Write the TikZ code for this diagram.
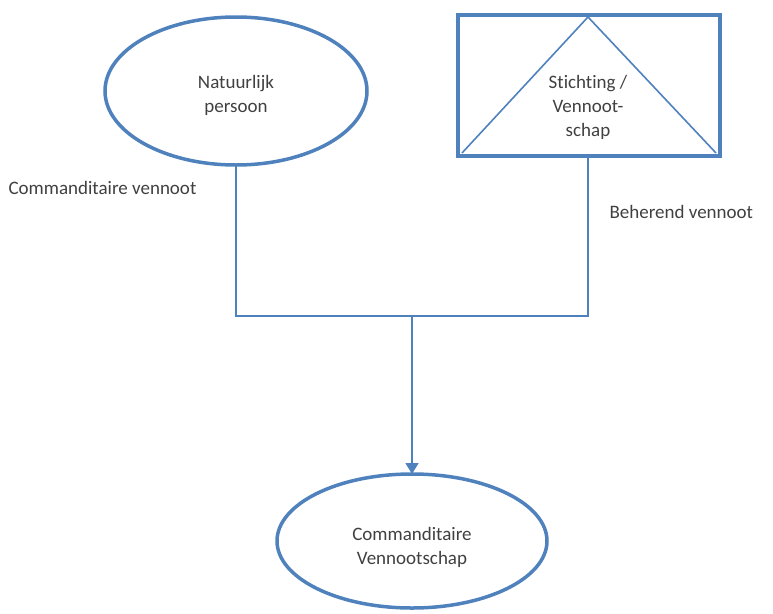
\documentclass[tikz,border=0pt]{standalone}
\usepackage{fontspec}
\setmainfont{Carlito}[Ligatures={NoCommon}]
\usetikzlibrary{arrows.meta}
\definecolor{ob}{RGB}{79,129,189}
\definecolor{tx}{RGB}{64,64,64}
\begin{document}
\begin{tikzpicture}[x=1pt,y=-1pt,
  lbl/.style={text=tx,font=\fontsize{19}{24}\selectfont,align=center},
  conn/.style={draw=ob,line width=1.6pt}]
\useasboundingbox (0,0) rectangle (773,613);
% top ellipse
\draw[ob,line width=3.5pt] (236,91) ellipse [x radius=131,y radius=74];
\node[lbl] (np) at (236,95) {Natuurlijk\\persoon};
\coordinate (npb) at (236,165);
% rectangle with triangle
\draw[ob,line width=4.5pt] (458,15) rectangle (720,156);
\draw[ob,line width=1.6pt] (462,153) -- (588,17) -- (716,153);
\node[lbl] (sv) at (588,107) {Stichting /\\Vennoot-\\schap};
\coordinate (svb) at (588,156);
% connectors
\coordinate (jl) at (236,316);
\coordinate (jr) at (588,316);
\coordinate (jm) at (412,316);
\draw[conn] (npb) -- (jl) -- (jr) -- (svb);
% bottom ellipse
\draw[ob,line width=3.5pt] (412,541) ellipse [x radius=135,y radius=67];
\node[lbl] (cv) at (412,547) {Commanditaire\\Vennootschap};
\coordinate (cvt) at (412,474);
\draw[conn,-{Triangle[length=11pt,width=13pt]}] (jm) -- (cvt);
% labels
\node[lbl,anchor=west] (l1) at (5,188) {Commanditaire vennoot};
\node[lbl,anchor=west] (l2) at (606,212) {Beherend vennoot};
\end{tikzpicture}
\end{document}
